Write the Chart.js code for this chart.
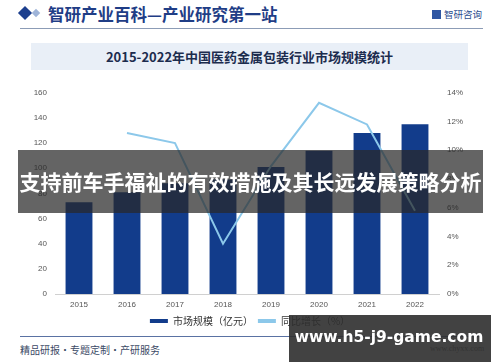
<!DOCTYPE html>
<html><head><meta charset="utf-8">
<script src="https://cdn.jsdelivr.net/npm/chart.js@4.4.1/dist/chart.umd.min.js"></script>
<style>
html,body{margin:0;padding:0;background:#fff;width:500px;height:362px;overflow:hidden;font-family:"Noto Sans CJK SC","Liberation Sans",sans-serif;}
.abs{position:absolute;}
#hdrline{left:20px;top:28px;width:463px;height:1px;background:#8c9cb6;}
#diamond{left:20px;top:8px;width:10px;height:10px;background:#1d3f8e;transform:rotate(45deg);}
#diamond2{left:33px;top:10px;width:6px;height:6px;background:#9fb4d8;transform:rotate(45deg);}
#hdr{left:48px;top:2px;font-size:16.5px;font-weight:bold;color:#1f3d86;font-family:"Noto Sans CJK SC";white-space:nowrap;}
#logo{left:432px;top:7px;font-size:9.5px;color:#2d4d8f;white-space:nowrap;}
#logo span{display:inline-block;width:9px;height:9px;background:#2f56a3;margin-right:3px;vertical-align:-1px;}
#tbox{left:31px;top:43px;width:437px;height:27px;background:#e9eff7;}
#title{left:31px;top:43px;width:437px;height:27px;line-height:27px;text-align:center;font-size:13px;font-weight:bold;color:#1c2c4e;white-space:nowrap;}
#cwrap{left:0;top:80px;width:500px;height:256px;}
#ftline{left:20px;top:336px;width:460px;height:1px;background:#5a72a3;}
#ftext{left:20px;top:342px;font-size:10px;color:#3c4a66;white-space:nowrap;}
#fright{left:430px;top:344px;font-size:8px;color:#666;font-family:"Liberation Serif";}
#band{left:18px;top:150px;width:465px;height:63px;background:rgba(40,40,40,0.72);}
#bandtxt{left:18px;top:150px;width:465px;height:63px;line-height:63px;text-align:center;color:#fff;font-size:21px;font-weight:bold;white-space:nowrap;}
#wbox{left:289px;top:315px;width:202px;height:47px;background:rgba(45,45,45,0.9);}
#wtxt{left:289px;top:315px;width:200px;height:45px;line-height:45px;text-align:center;color:#fff;font-size:15.5px;font-weight:bold;font-family:"DejaVu Sans";white-space:nowrap;}
</style></head>
<body>
<div class="abs" id="diamond"></div><div class="abs" id="diamond2"></div>
<div class="abs" id="hdr">智研产业百科—产业研究第一站</div>
<div class="abs" id="logo"><span></span>智研咨询</div>
<div class="abs" id="hdrline"></div>
<div class="abs" id="tbox"></div>
<div class="abs" id="title">2015-2022年中国医药金属包装行业市场规模统计</div>
<div class="abs" id="cwrap"><canvas id="c" width="500" height="256"></canvas></div>
<div class="abs" id="ftline"></div>
<div class="abs" id="ftext">精品研报・专题定制・产研服务</div>
<div class="abs" id="fright">www.chyxx.com</div>
<div class="abs" id="band"></div>
<div class="abs" id="bandtxt">支持前车手福祉的有效措施及其长远发展策略分析</div>
<div class="abs" id="wbox"></div>
<div class="abs" id="wtxt">www.h5-j9-game.com</div>
<script>
const years = ["2015","2016","2017","2018","2019","2020","2021","2022"];
const marketSize = [73, 81, 88, 91, 101, 114, 128, 135];
const growthRate = [null, 11.2, 10.5, 3.5, 8.9, 13.3, 11.8, 5.8];
const leftTicks = [0,20,40,60,80,100,120,140,160];
const rightTicks = [0,2,4,6,8,10,12,14];
const seriesNames = ["市场规模（亿元）","同比增长（%）"];

const BAR = "#123c8b", LINE = "#8cc8ea";
const tickFont = {family:"Liberation Sans", size:8};
new Chart(document.getElementById("c"), {
  data: {
    labels: years,
    datasets: [
      {type:"line", label:seriesNames[1], data:growthRate, yAxisID:"y1", borderColor:LINE, backgroundColor:LINE, borderWidth:2, pointRadius:0, tension:0, order:0, spanGaps:false},
      {type:"bar", label:seriesNames[0], data:marketSize, yAxisID:"y", backgroundColor:BAR, categoryPercentage:0.56, barPercentage:1, order:1}
    ]
  },
  options: {
    responsive:false, animation:false,
    layout:{padding:{top:12, left:0, right:0, bottom:0}},
    plugins:{
      tooltip:{enabled:false},
      legend:{position:"bottom", reverse:true,
        labels:{boxWidth:18, boxHeight:4, padding:5, color:"#333", font:{family:"Noto Sans CJK SC", size:10},
          generateLabels(chart){
            return chart.data.datasets.map((d,i)=>({text:d.label, fillStyle:d.type==="bar"?BAR:LINE, strokeStyle:"rgba(0,0,0,0)", lineWidth:0, datasetIndex:i, hidden:false, fontColor:"#333"}));
          }}}
    },
    scales:{
      x:{grid:{display:false, drawTicks:false}, border:{display:true, color:"#d0d0d0"}, ticks:{font:tickFont, color:"#555", padding:6},
         afterFit(s){s.height=17;}},
      y:{position:"left", min:0, max:160, afterBuildTicks(s){s.ticks=leftTicks.map(v=>({value:v}));},
         grid:{display:false, drawTicks:false}, border:{display:false}, ticks:{font:tickFont, color:"#555", padding:8},
         afterFit(s){s.width=55;}},
      y1:{position:"right", min:0, max:14, afterBuildTicks(s){s.ticks=rightTicks.map(v=>({value:v}));},
         grid:{display:false, drawTicks:false}, border:{display:false}, ticks:{font:tickFont, color:"#555", padding:8, callback:v=>v+"%"},
         afterFit(s){s.width=61;}}
    }
  }
});
</script>
</body></html>
